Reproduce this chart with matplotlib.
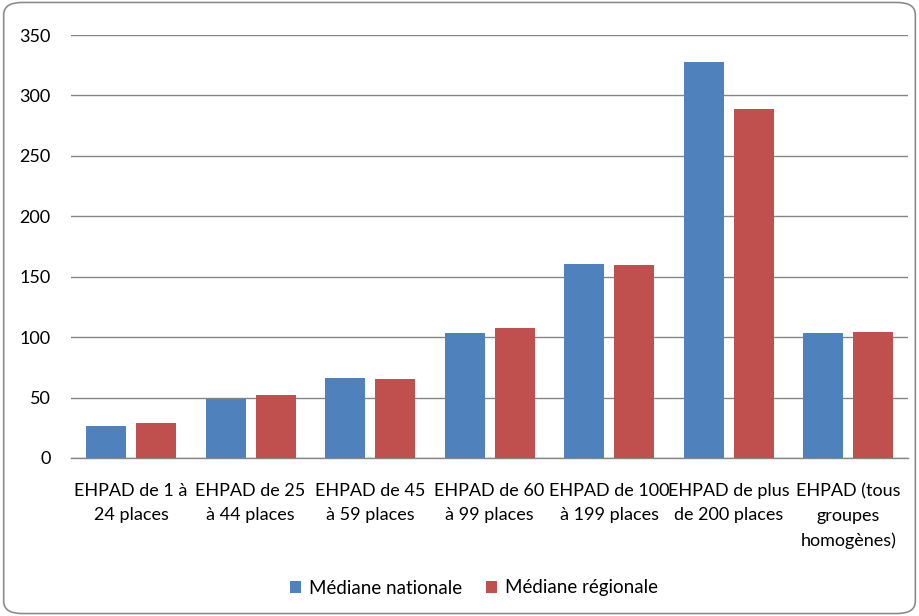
import matplotlib
matplotlib.use("Agg")
import matplotlib.pyplot as plt
import numpy as np
from matplotlib.patches import FancyBboxPatch

categories = ["EHPAD de 1 à\n24 places", "EHPAD de 25\nà 44 places", "EHPAD de 45\nà 59 places",
              "EHPAD de 60\nà 99 places", "EHPAD de 100\nà 199 places", "EHPAD de plus\nde 200 places",
              "EHPAD (tous\ngroupes\nhomogènes)"]
nationale = [26.6, 48.6, 66.5, 103.3, 160.6, 327.4, 103.5]
regionale = [29.3, 51.9, 65.5, 107.4, 159.8, 288.8, 104.6]
series_names = ["Médiane nationale", "Médiane régionale"]
yticks = [0, 50, 100, 150, 200, 250, 300, 350]

plt.rcParams['font.family'] = ['Lato', 'DejaVu Sans']

fig = plt.figure(figsize=(9.19, 6.16), dpi=100)
ax = fig.add_axes([71.25/919, 1-458/616, (908-71.25)/919, (458-35)/616])

x = np.arange(len(categories))
w = 0.335
off = 0.209
ax.bar(x - off, nationale, width=w, color="#4F81BD", label=series_names[0], zorder=3)
ax.bar(x + off, regionale, width=w, color="#C0504D", label=series_names[1], zorder=3)

ax.set_xlim(-0.5, len(categories) - 0.5)
ax.set_ylim(0, 350)
ax.set_yticks(yticks)
ax.set_yticklabels([str(v) for v in yticks], fontsize=13)
ax.yaxis.grid(True, color="#868686", linewidth=1, zorder=0)
ax.set_axisbelow(True)
ax.tick_params(axis='y', length=0, pad=15)
ax.tick_params(axis='x', length=0, pad=18)
ax.set_xticks(x)
ax.set_xticklabels(categories, fontsize=13, linespacing=1.65)
for s in ["top", "right", "left"]:
    ax.spines[s].set_visible(False)
ax.spines["bottom"].set_color("#868686")
ax.spines["bottom"].set_linewidth(1)

leg = fig.legend(loc="center", bbox_to_anchor=(474/919, 1-588/616), ncol=2, frameon=False,
                 fontsize=13.5, handlelength=0.6, handleheight=0.6, columnspacing=1.3, handletextpad=0.4)

border = FancyBboxPatch((0.004, 0.004), 0.992, 0.992, boxstyle="round,pad=0,rounding_size=0.02",
                        transform=fig.transFigure, fill=False, edgecolor="#8C8C8C", linewidth=1.2)
fig.patches.append(border)

fig.savefig("out.png", dpi=100)
